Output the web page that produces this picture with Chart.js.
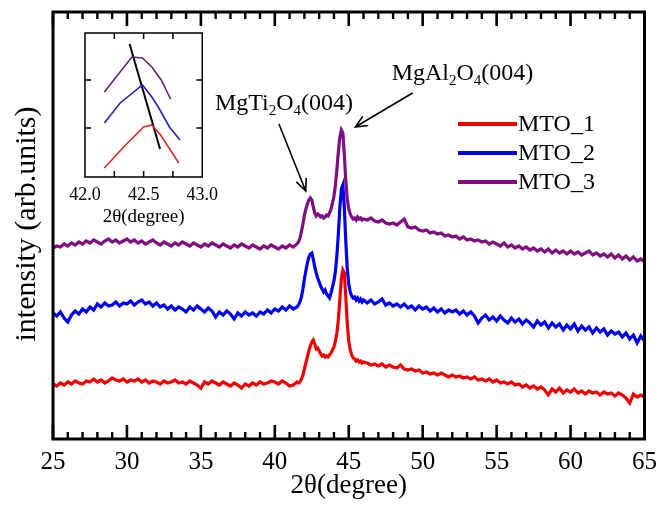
<!DOCTYPE html>
<html>
<head>
<meta charset="utf-8">
<script src="https://cdn.jsdelivr.net/npm/chart.js@4.4.1/dist/chart.umd.min.js"></script>
<style>
  body { margin: 0; background: #fff; }
  #wrap { position: relative; width: 665px; height: 511px; }
  #wrap canvas { position: absolute; }
  #main { left: 0; top: 0; }
  #inset { left: 60px; top: 25px; }
</style>
</head>
<body>
<div id="wrap">
  <canvas id="main" width="665" height="511"></canvas>
  <canvas id="inset" width="165" height="210"></canvas>
</div>
<script>
const SERIF = '"Liberation Serif", "Times New Roman", serif';

// 2θ sampling (degrees), finer around the peaks
const X_DEG = [
  25, 25.25, 25.5, 25.75,  26, 26.25, 26.5, 26.75,  27, 27.25, 27.5, 27.75,
  28, 28.25, 28.5, 28.75,  29, 29.25, 29.5, 29.75,  30, 30.25, 30.5, 30.75,
  31, 31.25, 31.5, 31.75,  32, 32.25, 32.5, 32.75,  33, 33.25, 33.5, 33.75,
  34, 34.25, 34.5, 34.75,  35, 35.25, 35.5, 35.75,  36, 36.25, 36.5, 36.75,
  37, 37.25, 37.5, 37.75,  38, 38.25, 38.5, 38.75,  39, 39.25, 39.5, 39.75,
  40, 40.25, 40.5, 40.75,  41, 41.25, 41.5,
  41.6, 41.7, 41.8, 41.9,
  42.0, 42.1, 42.2, 42.3, 42.4, 42.5, 42.6, 42.7, 42.8, 42.9,
  43.0, 43.1, 43.2, 43.3, 43.4, 43.5, 43.6, 43.7, 43.8, 43.9,
  44.0, 44.1, 44.2, 44.3, 44.4, 44.5, 44.6, 44.7, 44.8, 44.9,
  45.0, 45.1, 45.2, 45.3, 45.4, 45.5, 45.6, 45.7, 45.8, 45.9,
  46.0, 46.25, 46.5, 46.75,
  47, 47.25, 47.5, 47.75,  48, 48.25, 48.5, 48.75,  49, 49.25, 49.5, 49.75,
  50, 50.25, 50.5, 50.75,  51, 51.25, 51.5, 51.75,  52, 52.25, 52.5, 52.75,
  53, 53.25, 53.5, 53.75,  54, 54.25, 54.5, 54.75,  55, 55.25, 55.5, 55.75,
  56, 56.25, 56.5, 56.75,  57, 57.25, 57.5, 57.75,  58, 58.25, 58.5, 58.75,
  59, 59.25, 59.5, 59.75,  60, 60.25, 60.5, 60.75,  61, 61.25, 61.5, 61.75,
  62, 62.25, 62.5, 62.75,  63, 63.25, 63.5, 63.75,  64, 64.25, 64.5, 64.75,
  65
];

const MTO_1 = [
  55, 53, 56, 54,  57, 55, 58, 56,  55, 58, 57, 60,
  57, 59, 56, 58,  61, 59, 58, 60,  57, 59, 58, 60,
  57, 59, 56, 58,  57, 55, 58, 56,  57, 59, 56, 57,
  55, 58, 56, 54,  51, 57, 55, 58,  56, 54, 57, 55,
  53, 56, 54, 51,  55, 53, 56, 54,  57, 55, 56, 58,
  57, 55, 58, 56,  53, 54, 57,
  56, 57, 60, 64,
  70, 76, 82, 88, 93, 97, 99, 95, 90, 91,
  88, 85, 83, 84, 82, 83, 82, 84, 86, 89,
  92, 98, 106, 120, 140, 160, 169, 166, 142, 115,
  98, 89, 84, 81, 80, 78, 79, 77, 78, 76,
  77, 76, 74, 75,
  73, 75, 72, 74,  72, 71, 74, 70,  69, 70, 68, 69,
  66, 67, 65, 66,  64, 66, 64, 62,  64, 62, 63, 61,
  62, 60, 62, 59,  60, 58, 60, 57,  59, 56, 57, 55,
  57, 54, 55, 52,  54, 51, 53, 50,  52, 49, 44, 50,
  47, 51, 46, 49,  47, 50, 46, 48,  45, 48, 46, 47,
  44, 47, 45, 46,  43, 46, 44, 41,  36, 45, 42, 44,
  42
];

const MTO_2 = [
  126, 123, 127, 121,  117, 124, 128, 125,  130, 127, 132, 129,
  135, 132, 136, 133,  134, 137, 133, 136,  135, 138, 134, 137,
  139, 135, 137, 133,  136, 132, 134, 130,  133, 129, 132, 130,
  127, 132, 129, 133,  130, 127, 131, 128,  122, 127, 124, 128,
  125, 120, 126, 123,  127, 124, 126, 123,  127, 125, 129, 126,
  130, 128, 132, 129,  133, 130, 132,
  134, 137, 142, 150,
  160, 168, 176, 182, 185, 186, 180, 172, 166, 161,
  157, 153, 150, 147, 149, 145, 143, 141, 146, 152,
  158, 168, 184, 206, 232, 250, 254, 232, 198, 170,
  155, 147, 143, 141, 142, 139, 141, 138, 140, 137,
  139, 136, 139, 135,
  137, 140, 134, 136,  133, 135, 132, 135,  131, 133, 129, 133,
  130, 132, 128, 131,  127, 130, 126, 129,  127, 129, 125, 128,
  124, 127, 123, 116,  121, 124, 119, 122,  118, 123, 119, 116,
  121, 117, 120, 115,  119, 116, 112, 118,  114, 117, 111, 116,
  112, 115, 109, 114,  110, 115, 108, 113,  109, 112, 106, 111,
  107, 110, 104, 108,  105, 107, 102, 106,  100, 104, 96, 103,
  98
];

const MTO_3 = [
  191, 193, 192, 195,  193, 196, 194, 197,  195, 198, 196, 199,
  197, 195, 198, 200,  197, 199, 196, 198,  200, 197, 199, 196,
  198, 195, 197, 199,  196, 194, 197, 195,  193, 196, 194, 197,
  195, 193, 196, 194,  192, 195, 193, 196,  194, 192, 195, 193,
  191, 194, 192, 195,  193, 191, 194, 192,  190, 193, 191, 194,
  192, 190, 193, 191,  194, 192, 195,
  197, 201, 207, 215,
  224, 230, 235, 239, 241, 239, 232, 226, 223, 225,
  224, 222, 223, 221, 222, 224, 223, 226, 230, 236,
  243, 254, 270, 288, 302, 309, 306, 285, 258, 240,
  230, 225, 222, 220, 221, 219, 222, 220, 221, 219,
  220, 219, 221, 218,
  217, 219, 216, 215,  216, 214, 217, 220,  212, 211, 212, 209,
  208, 209, 206, 207,  205, 206, 203, 204,  202, 203, 200, 202,
  199, 200, 198, 199,  197, 198, 195, 197,  195, 193, 196, 192,
  194, 191, 193, 190,  192, 189, 191, 188,  190, 187, 190, 186,
  189, 186, 188, 185,  188, 185, 187, 184,  186, 188, 184, 186,
  183, 185, 182, 185,  181, 184, 180, 183,  179, 182, 178, 180,
  177
];

const SERIES_NAMES = ['MTO_1', 'MTO_2', 'MTO_3'];
const SERIES_COLORS = ['#f00000', '#0000f0', '#7f0f80'];
const X_TICK_LABELS = [25, 30, 35, 40, 45, 50, 55, 60, 65];
const X_MINOR_TICKS = [
  26, 27, 28, 29, 31, 32, 33, 34, 36, 37, 38, 39, 41, 42, 43, 44,
  46, 47, 48, 49, 51, 52, 53, 54, 56, 57, 58, 59, 61, 62, 63, 64
];

// inset: zoom on the MgTi2O4(004) peak
const INSET_1_X = [42.165, 42.33, 42.50, 42.57, 42.645, 42.80];
const INSET_1_Y = [9, 30, 50, 52, 42, 14];
const INSET_2_X = [42.165, 42.30, 42.49, 42.57, 42.63, 42.72, 42.81];
const INSET_2_Y = [54, 74, 92, 80, 69, 50, 37];
const INSET_3_X = [42.165, 42.40, 42.49, 42.57, 42.65, 42.73];
const INSET_3_Y = [85, 120, 119, 110, 97, 78];
const INSET_GUIDE_X = [42.38, 42.64];
const INSET_GUIDE_Y = [133, 28];
const INSET_TICK_LABELS = [42, 42.5, 43];
const INSET_X_MARKS = [42.25, 42.5, 42.75];
const INSET_COLORS = ['#e02828', '#2323c8', '#5e2672'];

// peak labels, positioned in data units
const ANNOTATIONS = [
  { parts: [['MgTi', 0], ['2', 1], ['O', 0], ['4', 1], ['(004)', 0]], at: [35.95, 329],
    arrowFrom: [40.28, 315], arrowTo: [42.09, 248] },
  { parts: [['MgAl', 0], ['2', 1], ['O', 0], ['4', 1], ['(004)', 0]], at: [47.9, 359],
    arrowFrom: [49.32, 346], arrowTo: [45.44, 312] },
];

const toPoints = (xs, ys) => xs.map((x, i) => ({ x, y: ys[i] }));

function drawChem(ctx, parts, x, y, size) {
  parts.forEach(([s, sub]) => {
    ctx.font = `${sub ? Math.round(size * 0.64) : size}px ${SERIF}`;
    ctx.fillText(s, x, y + (sub ? 5 : 0));
    x += ctx.measureText(s).width;
  });
}

function drawArrow(ctx, x0, y0, x1, y1) {
  const ang = Math.atan2(y1 - y0, x1 - x0);
  const head = 13, spread = 0.42;
  ctx.beginPath();
  ctx.moveTo(x0, y0); ctx.lineTo(x1, y1);
  ctx.moveTo(x1 - head * Math.cos(ang - spread), y1 - head * Math.sin(ang - spread));
  ctx.lineTo(x1, y1);
  ctx.lineTo(x1 - head * Math.cos(ang + spread), y1 - head * Math.sin(ang + spread));
  ctx.stroke();
}

// inward tick marks on the top and bottom edges, placed with the x scale
function xMarks(ctx, a, xScale, values, len) {
  ctx.beginPath();
  values.forEach(v => {
    const px = xScale.getPixelForValue(v);
    ctx.moveTo(px, a.bottom);
    ctx.lineTo(px, a.bottom - len);
    ctx.moveTo(px, a.top);
    ctx.lineTo(px, a.top + len);
  });
  ctx.stroke();
}

const decorations = {
  id: 'decorations',
  afterDraw(chart) {
    const { ctx, chartArea: a, scales: { x, y } } = chart;
    ctx.save();
    ctx.fillStyle = '#000';
    ctx.strokeStyle = '#000';
    ctx.lineWidth = 1.6;
    ctx.textBaseline = 'alphabetic';
    ctx.textAlign = 'left';
    ANNOTATIONS.forEach(n => {
      drawChem(ctx, n.parts, x.getPixelForValue(n.at[0]), y.getPixelForValue(n.at[1]), 24);
      drawArrow(ctx,
        x.getPixelForValue(n.arrowFrom[0]), y.getPixelForValue(n.arrowFrom[1]),
        x.getPixelForValue(n.arrowTo[0]), y.getPixelForValue(n.arrowTo[1]));
    });

    // legend
    ctx.font = `24px ${SERIF}`;
    ctx.textBaseline = 'middle';
    chart.data.datasets.forEach((ds, i) => {
      const ly = 124 + i * 29;
      ctx.strokeStyle = ds.borderColor;
      ctx.lineWidth = 4;
      ctx.beginPath(); ctx.moveTo(458, ly); ctx.lineTo(517, ly); ctx.stroke();
      ctx.fillText(ds.label, 518, ly + 1);
    });

    // frame, then ticks on top of it
    ctx.strokeStyle = '#000';
    ctx.lineWidth = 3;
    ctx.strokeRect(a.left, a.top, a.right - a.left, a.bottom - a.top);
    ctx.lineWidth = 2.6;
    xMarks(ctx, a, x, X_TICK_LABELS, 14);
    ctx.lineWidth = 2.4;
    xMarks(ctx, a, x, X_MINOR_TICKS, 7);

    // y title
    ctx.translate(27, 224);
    ctx.rotate(-Math.PI / 2);
    ctx.textAlign = 'center';
    ctx.font = `30px ${SERIF}`;
    ctx.fillText('intensity (arb.units)', 0, 0);
    ctx.restore();
  }
};

const insetFrame = {
  id: 'insetFrame',
  afterDraw(chart) {
    const { ctx, chartArea: a, scales: { x } } = chart;
    ctx.save();
    ctx.strokeStyle = '#000';
    ctx.lineWidth = 1.5;
    ctx.strokeRect(a.left, a.top, a.right - a.left, a.bottom - a.top);
    // two unlabeled y marks, one third and two thirds up the box
    ctx.beginPath();
    [1 / 3, 2 / 3].forEach(f => {
      const py = a.bottom - f * (a.bottom - a.top) - 1;
      ctx.moveTo(a.left, py);  ctx.lineTo(a.left + 6, py);
      ctx.moveTo(a.right, py); ctx.lineTo(a.right - 6, py);
    });
    ctx.stroke();
    xMarks(ctx, a, x, INSET_X_MARKS, 6);
    ctx.restore();
  }
};

new Chart(document.getElementById('main'), {
  type: 'line',
  data: {
    datasets: [MTO_1, MTO_2, MTO_3].map((vals, i) => ({
      label: SERIES_NAMES[i],
      data: toPoints(X_DEG, vals),
      borderColor: SERIES_COLORS[i],
      borderWidth: 3.2,
      pointRadius: 0,
      tension: 0,
    })),
  },
  options: {
    responsive: false,
    animation: false,
    events: [],
    layout: { padding: { left: 53, right: 15, top: 12, bottom: 0 } },
    plugins: { legend: { display: false }, tooltip: { enabled: false } },
    scales: {
      x: {
        type: 'linear', min: 25, max: 65,
        grid: { display: false, drawTicks: false },
        border: { display: false },
        ticks: {
          stepSize: 5, autoSkip: false, maxRotation: 0, padding: 8,
          color: '#000', font: { family: SERIF, size: 25 },
        },
        title: {
          display: true, text: '2θ(degree)', color: '#000',
          font: { family: SERIF, size: 27 }, padding: { top: 0, bottom: 9 },
        },
        afterFit: s => { s.height = 72; },
      },
      y: { display: false, min: 0, max: 427 },
    },
  },
  plugins: [decorations],
});

new Chart(document.getElementById('inset'), {
  type: 'line',
  data: {
    datasets: [
      ...[[INSET_1_X, INSET_1_Y], [INSET_2_X, INSET_2_Y], [INSET_3_X, INSET_3_Y]].map(([xs, ys], i) => ({
        data: toPoints(xs, ys),
        borderColor: INSET_COLORS[i],
        borderWidth: 1.6,
        pointRadius: 0,
        tension: 0,
      })),
      { data: toPoints(INSET_GUIDE_X, INSET_GUIDE_Y), borderColor: '#000', borderWidth: 2, pointRadius: 0 },
    ],
  },
  options: {
    responsive: false,
    animation: false,
    events: [],
    layout: { padding: { left: 25, right: 13, top: 8, bottom: 0 } },
    plugins: { legend: { display: false }, tooltip: { enabled: false } },
    scales: {
      x: {
        type: 'linear', min: 42, max: 43,
        grid: { display: false, drawTicks: false },
        border: { display: false },
        ticks: {
          stepSize: 0.5, autoSkip: false, maxRotation: 0, padding: 7,
          color: '#000', font: { family: SERIF, size: 18 },
          callback: v => INSET_TICK_LABELS.includes(v) ? v.toFixed(1) : '',
        },
        title: {
          display: true, text: '2θ(degree)', color: '#000',
          font: { family: SERIF, size: 19 }, padding: { top: 0, bottom: 7 },
        },
        afterFit: s => { s.height = 58; },
      },
      y: { display: false, min: 0, max: 144 },
    },
  },
  plugins: [insetFrame],
});
</script>
</body>
</html>
